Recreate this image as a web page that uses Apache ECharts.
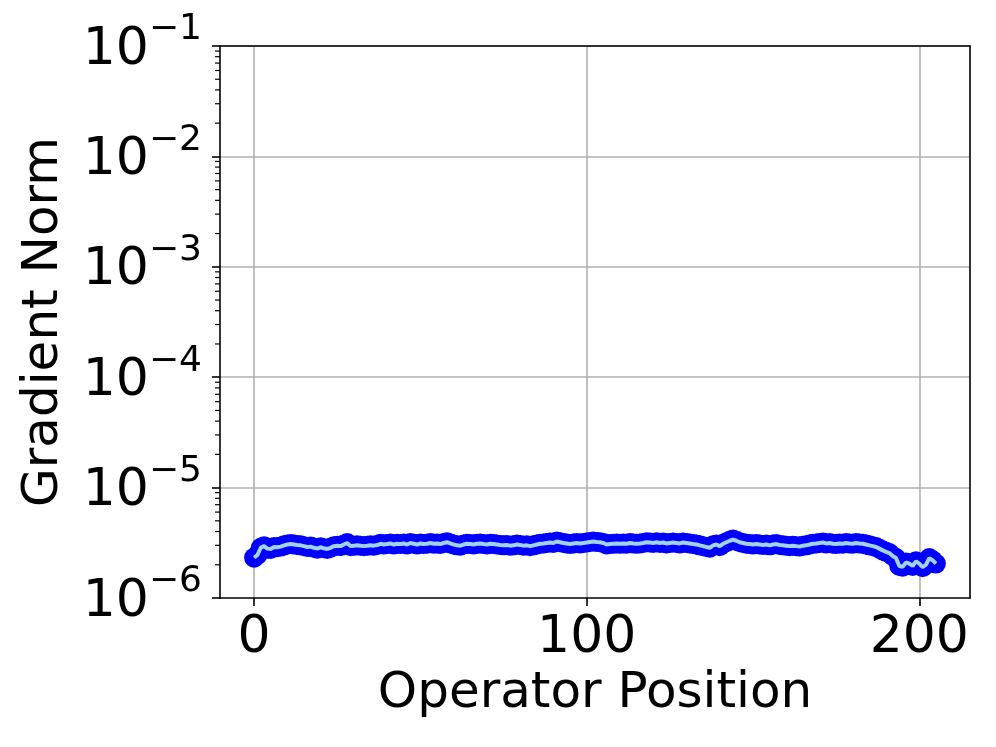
<!DOCTYPE html>
<html>
<head>
<meta charset="utf-8">
<script src="https://cdn.jsdelivr.net/npm/echarts@6/dist/echarts.min.js"></script>
<style>
  html, body { margin: 0; padding: 0; background: #fff; }
  #chart { width: 996px; height: 747px; }
</style>
</head>
<body>
<div id="chart"></div>
<script>
// gradient norm per operator position
const gradNorm = [
  2.32e-6, 2.45e-6, 2.85e-6, 2.95e-6, 2.80e-6, 2.78e-6, 2.90e-6, 2.88e-6, 2.92e-6, 3.00e-6,
  3.05e-6, 3.08e-6, 3.05e-6, 3.02e-6, 3.00e-6, 2.95e-6, 2.90e-6, 2.92e-6, 2.85e-6, 2.80e-6,
  2.88e-6, 2.82e-6, 2.78e-6, 2.85e-6, 2.95e-6, 2.98e-6, 2.95e-6, 3.05e-6, 3.15e-6, 2.95e-6,
  2.98e-6, 3.00e-6, 2.98e-6, 2.95e-6, 2.97e-6, 3.00e-6, 2.98e-6, 3.02e-6, 3.10e-6, 3.05e-6,
  3.08e-6, 3.12e-6, 3.05e-6, 3.10e-6, 3.08e-6, 3.12e-6, 3.05e-6, 3.15e-6, 3.10e-6, 3.05e-6,
  3.12e-6, 3.08e-6, 3.10e-6, 3.15e-6, 3.10e-6, 3.12e-6, 3.08e-6, 3.15e-6, 3.20e-6, 3.12e-6,
  3.05e-6, 3.00e-6, 2.98e-6, 3.05e-6, 3.10e-6, 3.08e-6, 3.05e-6, 3.10e-6, 3.12e-6, 3.08e-6,
  3.05e-6, 3.10e-6, 3.08e-6, 3.05e-6, 3.02e-6, 3.00e-6, 3.02e-6, 2.98e-6, 3.00e-6, 3.05e-6,
  3.02e-6, 2.98e-6, 3.00e-6, 2.95e-6, 3.00e-6, 3.05e-6, 3.10e-6, 3.12e-6, 3.15e-6, 3.18e-6,
  3.15e-6, 3.25e-6, 3.20e-6, 3.15e-6, 3.12e-6, 3.08e-6, 3.12e-6, 3.15e-6, 3.12e-6, 3.15e-6,
  3.18e-6, 3.22e-6, 3.25e-6, 3.22e-6, 3.20e-6, 3.15e-6, 3.05e-6, 3.08e-6, 3.10e-6, 3.12e-6,
  3.10e-6, 3.12e-6, 3.10e-6, 3.15e-6, 3.12e-6, 3.10e-6, 3.12e-6, 3.15e-6, 3.20e-6, 3.18e-6,
  3.15e-6, 3.20e-6, 3.15e-6, 3.18e-6, 3.12e-6, 3.15e-6, 3.18e-6, 3.15e-6, 3.12e-6, 3.18e-6,
  3.15e-6, 3.12e-6, 3.08e-6, 3.05e-6, 3.00e-6, 2.95e-6, 2.90e-6, 2.85e-6, 3.00e-6, 3.05e-6,
  2.95e-6, 3.10e-6, 3.20e-6, 3.30e-6, 3.38e-6, 3.30e-6, 3.20e-6, 3.15e-6, 3.10e-6, 3.08e-6,
  3.05e-6, 3.08e-6, 3.05e-6, 3.02e-6, 3.05e-6, 3.00e-6, 3.05e-6, 3.08e-6, 3.02e-6, 3.00e-6,
  2.98e-6, 2.95e-6, 2.98e-6, 2.95e-6, 2.92e-6, 2.98e-6, 3.00e-6, 3.05e-6, 3.10e-6, 3.12e-6,
  3.15e-6, 3.18e-6, 3.12e-6, 3.15e-6, 3.10e-6, 3.08e-6, 3.12e-6, 3.10e-6, 3.15e-6, 3.12e-6,
  3.10e-6, 3.15e-6, 3.12e-6, 3.10e-6, 3.05e-6, 3.00e-6, 2.95e-6, 2.90e-6, 2.80e-6, 2.70e-6,
  2.62e-6, 2.55e-6, 2.40e-6, 2.30e-6, 1.95e-6, 1.92e-6, 2.10e-6, 2.05e-6, 1.95e-6, 2.15e-6,
  2.05e-6, 1.90e-6, 2.00e-6, 2.30e-6, 2.20e-6, 2.05e-6
];
const positions = gradNorm.map((v, i) => i);

const xTicks = [0, 100, 200];
const yMin = 1e-6, yMax = 1e-1;
const xMin = -10.25, xMax = 215.25;

// minor ticks of the log axis: 2..9 x 10^e
const minorDecades = [-6, -5, -4, -3, -2];
const minorMantissas = [2, 3, 4, 5, 6, 7, 8, 9];
const minorTicks = [];
minorDecades.forEach(e => minorMantissas.forEach(m => minorTicks.push([xMin, m * Math.pow(10, e)])));

const font = 'DejaVu Sans';
const spine = { show: true, onZero: false, lineStyle: { color: '#000', width: 1.6 } };

let chart = echarts.init(document.getElementById('chart'), null, { renderer: 'canvas' });
chart.setOption({
    animation: false,
    backgroundColor: '#fff',
    grid: { left: 220, top: 46, width: 750, height: 552 },
    xAxis: [{
        type: 'value',
        min: xMin,
        max: xMax,
        name: 'Operator Position',
        nameLocation: 'middle',
        nameGap: 69,
        nameTextStyle: { fontFamily: font, fontSize: 50, color: '#000' },
        axisLine: spine,
        axisTick: { show: true, customValues: xTicks, length: 8, lineStyle: { color: '#000', width: 1.6 } },
        axisLabel: { customValues: xTicks, margin: 14, fontFamily: font, fontSize: 52, color: '#000' },
        splitLine: { show: true, lineStyle: { color: '#b0b0b0', width: 1.6 } }
    }, {
        // top spine
        type: 'value', position: 'top', min: xMin, max: xMax,
        axisLine: spine, axisTick: { show: false }, axisLabel: { show: false }, splitLine: { show: false }
    }],
    yAxis: [{
        type: 'log',
        logBase: 10,
        min: yMin,
        max: yMax,
        name: 'Gradient Norm',
        nameLocation: 'middle',
        nameGap: 151,
        nameTextStyle: { fontFamily: font, fontSize: 50, color: '#000' },
        axisLine: spine,
        axisTick: { show: true, length: 8, lineStyle: { color: '#000', width: 1.6 } },
        axisLabel: {
            margin: 18,
            formatter: function (v) {
                const e = Math.round(Math.log10(v));
                return '{b|10}{s|\u2212' + (-e) + '}';
            },
            rich: {
                b: { fontFamily: font, fontSize: 52, lineHeight: 60, color: '#000', verticalAlign: 'bottom' },
                s: { fontFamily: font, fontSize: 36, lineHeight: 32, color: '#000', verticalAlign: 'bottom', padding: [0, 0, 28, 0] }
            }
        },
        splitLine: { show: true, showMinLine: false, showMaxLine: false, lineStyle: { color: '#b0b0b0', width: 1.6 } }
    }, {
        // right spine
        type: 'log', logBase: 10, position: 'right', min: yMin, max: yMax,
        axisLine: spine, axisTick: { show: false }, axisLabel: { show: false }, splitLine: { show: false }
    }],
    series: [{
        name: 'markers',
        type: 'scatter',
        data: positions.map((x, i) => [x, gradNorm[i]]),
        symbol: 'circle',
        symbolSize: 20,
        itemStyle: { color: '#0000ff', opacity: 1 },
        z: 3
    }, {
        name: 'line',
        type: 'line',
        data: positions.map((x, i) => [x, gradNorm[i]]),
        showSymbol: false,
        lineStyle: { color: '#9fd4ee', width: 4 },
        z: 4
    }, {
        name: 'minorTicks',
        type: 'custom',
        data: minorTicks,
        clip: false,
        silent: true,
        renderItem: function (params, api) {
            const p = api.coord([api.value(0), api.value(1)]);
            return {
                type: 'line',
                shape: { x1: p[0] - 5, y1: p[1], x2: p[0], y2: p[1] },
                style: { stroke: '#000', lineWidth: 1.2 }
            };
        },
        z: 5
    }]
});
</script>
</body>
</html>
